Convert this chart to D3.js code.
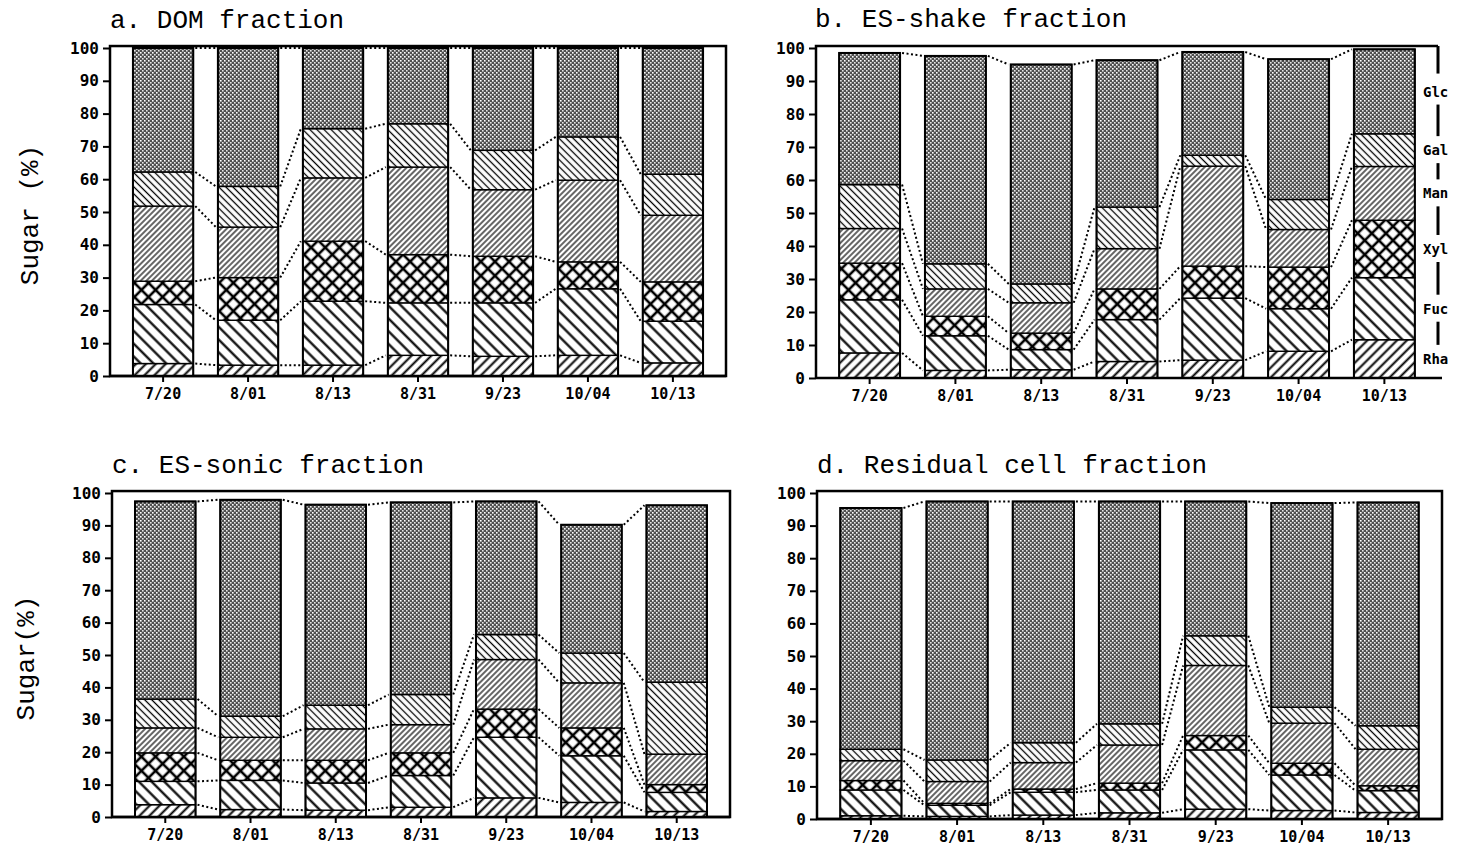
<!DOCTYPE html>
<html>
<head>
<meta charset="utf-8">
<script src="https://cdn.jsdelivr.net/npm/d3@7/dist/d3.min.js"></script>
<style>
  body { margin: 0; background: #fff; }
  .tick text { font-family: "DejaVu Sans Mono", monospace; font-weight: bold; }
</style>
</head>
<body>
<svg id="chart" width="1467" height="851"></svg>
<script>
/* DATA */
const dates = ["7/20", "8/01", "8/13", "8/31", "9/23", "10/04", "10/13"];
const sugars = ["Rha", "Fuc", "Xyl", "Man", "Gal", "Glc"]; // bottom to top
const yTicks = [0, 10, 20, 30, 40, 50, 60, 70, 80, 90, 100];

// sugar composition (%) per date, order = sugars
const domValues = [
    [3.8, 18.0, 7.1, 22.9, 10.4, 37.8],
    [3.3, 13.7, 13.0, 15.4, 12.4, 42.2],
    [3.3, 19.5, 18.3, 19.3, 15.0, 24.6],
    [6.3, 16.0, 14.7, 26.7, 13.2, 23.1],
    [6.0, 16.3, 14.2, 20.3, 12.0, 31.2],
    [6.3, 20.3, 8.2, 24.9, 13.2, 27.1],
    [4.0, 12.7, 12.0, 20.3, 12.5, 38.5]
];
const shakeValues = [
    [7.6, 16.1, 11.1, 10.5, 13.3, 39.9],
    [2.3, 10.5, 5.9, 8.3, 7.6, 63.0],
    [2.5, 6.1, 5.0, 9.2, 5.7, 66.5],
    [5.0, 12.7, 9.3, 12.2, 12.6, 44.5],
    [5.4, 18.8, 9.7, 30.3, 3.3, 31.3],
    [8.1, 12.9, 12.6, 11.4, 9.1, 42.5],
    [11.6, 18.8, 17.4, 16.3, 9.9, 25.6]
];
const sonicValues = [
    [3.8, 7.2, 8.8, 7.7, 8.9, 61.0],
    [2.3, 9.0, 6.2, 7.1, 6.5, 66.8],
    [2.1, 8.4, 7.0, 9.7, 7.3, 61.9],
    [3.0, 9.8, 7.0, 8.7, 9.3, 59.3],
    [5.9, 18.7, 8.7, 15.3, 7.7, 41.1],
    [4.5, 14.4, 8.6, 13.9, 9.2, 39.6],
    [1.7, 5.9, 2.4, 9.4, 22.2, 54.6]
];
const residualValues = [
    [1.0, 7.9, 2.9, 6.1, 3.5, 74.0],
    [0.8, 3.4, 0.6, 6.7, 6.6, 79.3],
    [1.2, 7.0, 1.0, 8.1, 6.1, 74.0],
    [1.9, 7.0, 2.1, 11.7, 6.5, 68.2],
    [3.0, 18.2, 4.4, 21.5, 9.1, 41.2],
    [2.6, 10.9, 3.6, 12.3, 4.9, 62.6],
    [2.0, 6.7, 1.5, 11.2, 7.2, 68.5]
];

/* LAYOUT */
const panels = [
    { title: "a. DOM fraction", values: domValues, left: 110, right: 726, top: 48, bottom: 376,
      titleX: 110, titleY: 28, yLabel: "Sugar (%)", yLabelX: 31, legend: false },
    { title: "b. ES-shake fraction", values: shakeValues, left: 816, right: 1438, top: 48, bottom: 378,
      titleX: 815, titleY: 27, yLabel: null, legend: true },
    { title: "c. ES-sonic fraction", values: sonicValues, left: 112, right: 730, top: 493, bottom: 817,
      titleX: 112, titleY: 473, yLabel: "Sugar(%)", yLabelX: 27, legend: false },
    { title: "d. Residual cell fraction", values: residualValues, left: 817, right: 1442, top: 493, bottom: 819,
      titleX: 817, titleY: 473, yLabel: null, legend: false }
];

const svg = d3.select("#chart");
const defs = svg.append("defs");

// hatch patterns
function hatch(id, spacing, angle, width, cross) {
    const p = defs.append("pattern")
        .attr("id", id)
        .attr("patternUnits", "userSpaceOnUse")
        .attr("width", spacing)
        .attr("height", spacing)
        .attr("patternTransform", `rotate(${angle})`);
    p.append("rect").attr("width", spacing).attr("height", spacing).attr("fill", "#fff");
    p.append("line")
        .attr("x1", spacing / 2).attr("x2", spacing / 2)
        .attr("y1", 0).attr("y2", spacing)
        .attr("stroke", "#000").attr("stroke-width", width);
    if (cross) {
        p.append("line")
            .attr("x1", 0).attr("x2", spacing)
            .attr("y1", spacing / 2).attr("y2", spacing / 2)
            .attr("stroke", "#000").attr("stroke-width", width);
    }
}
hatch("p-Rha", 7, 45, 2);
hatch("p-Fuc", 9, -45, 2.2);
hatch("p-Xyl", 10, 45, 2.6, true);
hatch("p-Man", 4, 45, 1.2);
hatch("p-Gal", 5, -45, 1.3);

// Glc: grey stipple
const glc = defs.append("pattern")
    .attr("id", "p-Glc")
    .attr("patternUnits", "userSpaceOnUse")
    .attr("width", 4).attr("height", 4);
glc.append("rect").attr("width", 4).attr("height", 4).attr("fill", "#4f4f4f");
glc.append("rect").attr("x", 0).attr("y", 0).attr("width", 1.6).attr("height", 1.6).attr("fill", "#fff");
glc.append("rect").attr("x", 2).attr("y", 2).attr("width", 1.6).attr("height", 1.6).attr("fill", "#e6e6e6");

const stack = d3.stack()
    .keys(d3.range(sugars.length))
    .value((d, k) => d[k]);

panels.forEach(drawPanel);

function drawPanel(p) {
    const g = svg.append("g");

    const x = d3.scaleBand()
        .domain(dates)
        .range([p.left, p.right])
        .paddingInner(0.29)
        .paddingOuter(0.27);

    const y = d3.scaleLinear()
        .domain([0, 100])
        .range([p.bottom, p.top]);

    const series = stack(p.values);
    const bw = x.bandwidth();

    // frame
    if (p.legend) {
        g.append("path")
            .attr("d", `M${p.right},${y(100.6)} H${p.left} V${p.bottom}`)
            .attr("fill", "none").attr("stroke", "#000").attr("stroke-width", 2.5);
    } else {
        g.append("rect")
            .attr("x", p.left).attr("y", y(100.6))
            .attr("width", p.right - p.left).attr("height", p.bottom - y(100.6))
            .attr("fill", "none").attr("stroke", "#000").attr("stroke-width", 2.5);
    }

    // stacked bars
    const layers = g.selectAll("g.layer")
        .data(series)
        .join("g")
        .attr("class", "layer")
        .attr("fill", d => `url(#p-${sugars[d.key]})`);

    layers.selectAll("rect")
        .data(d => d)
        .join("rect")
        .attr("x", (d, i) => x(dates[i]))
        .attr("y", d => y(d[1]))
        .attr("width", bw)
        .attr("height", d => y(d[0]) - y(d[1]))
        .attr("stroke", "#000")
        .attr("stroke-width", 1.4);

    // bar outlines
    const totals = p.values.map(v => d3.sum(v));
    g.selectAll("rect.outline")
        .data(totals)
        .join("rect")
        .attr("class", "outline")
        .attr("x", (d, i) => x(dates[i]))
        .attr("y", d => y(d))
        .attr("width", bw)
        .attr("height", d => y(0) - y(d))
        .attr("fill", "none")
        .attr("stroke", "#000")
        .attr("stroke-width", 2);

    // dotted connectors between bars
    const links = [];
    series.forEach(s => {
        for (let i = 0; i < dates.length - 1; i++) {
            links.push({ x1: x(dates[i]) + bw, x2: x(dates[i + 1]), v1: s[i][1], v2: s[i + 1][1] });
        }
    });
    g.selectAll("line.link")
        .data(links)
        .join("line")
        .attr("class", "link")
        .attr("x1", d => d.x1 + 2)
        .attr("x2", d => d.x2 - 2)
        .attr("y1", d => y(d.v1))
        .attr("y2", d => y(d.v2))
        .attr("stroke", "#000")
        .attr("stroke-width", 2)
        .attr("stroke-dasharray", "2,2.5");

    // axes
    const yAxis = g.append("g")
        .attr("transform", `translate(${p.left},0)`)
        .call(d3.axisLeft(y).tickValues(yTicks).tickSize(7).tickPadding(4).tickFormat(d3.format("d")));
    yAxis.select(".domain").remove();
    yAxis.selectAll(".tick line").attr("stroke-width", 2);
    yAxis.selectAll(".tick text").attr("font-size", 16);

    const xAxis = g.append("g")
        .attr("transform", `translate(0,${p.bottom})`)
        .call(d3.axisBottom(x).tickSize(6).tickPadding(6));
    xAxis.select(".domain")
        .attr("d", `M${p.left},0H${p.legend ? p.right + 4 : p.right}`)
        .attr("stroke-width", 2.5);
    xAxis.selectAll(".tick line").attr("stroke-width", 2);
    xAxis.selectAll(".tick text").attr("font-size", 15);

    // title
    g.append("text")
        .attr("x", p.titleX)
        .attr("y", p.titleY)
        .attr("font-family", "'Courier New', 'Liberation Mono', monospace")
        .attr("font-size", 26)
        .text(p.title);

    if (p.yLabel) {
        const cy = (p.top + p.bottom) / 2 + 3;
        g.append("text")
            .attr("transform", `translate(${p.yLabelX},${cy}) rotate(-90)`)
            .attr("text-anchor", "middle")
            .attr("dominant-baseline", "central")
            .attr("font-family", "'Courier New', 'Liberation Mono', monospace")
            .attr("font-size", 26)
            .text(p.yLabel);
    }

    // legend on right edge, aligned with last bar's layers
    if (p.legend) {
        const last = dates.length - 1;
        const ly = series.map(s => y((s[last][0] + s[last][1]) / 2));
        g.selectAll("text.legend")
            .data(sugars)
            .join("text")
            .attr("class", "legend")
            .attr("x", p.right - 15)
            .attr("y", (d, i) => ly[i])
            .attr("dominant-baseline", "central")
            .attr("font-family", "'DejaVu Sans Mono', monospace")
            .attr("font-weight", "bold")
            .attr("font-size", 14)
            .text(d => d);

        const segs = [{ y1: y(100.6), y2: ly[5] - 18 }];
        for (let i = 5; i > 0; i--) segs.push({ y1: ly[i] + 13, y2: ly[i - 1] - 14 });
        g.selectAll("line.legendbar")
            .data(segs.filter(s => s.y2 > s.y1))
            .join("line")
            .attr("class", "legendbar")
            .attr("x1", p.right).attr("x2", p.right)
            .attr("y1", d => d.y1).attr("y2", d => d.y2)
            .attr("stroke", "#000")
            .attr("stroke-width", 3);
    }
}
</script>
</body>
</html>
